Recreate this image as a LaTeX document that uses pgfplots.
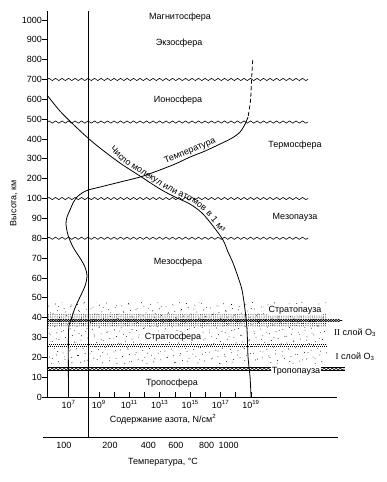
\documentclass[border=0pt]{standalone}
\usepackage{pgfplots}
\pgfplotsset{compat=1.18}
\usepackage{fontspec}
\setmainfont{Liberation Sans}
\newfontfamily\serifrm{Liberation Serif}
\usetikzlibrary{decorations.pathmorphing, decorations.text, patterns.meta}
\begin{document}
\fontsize{9}{11}\selectfont
\begin{tikzpicture}[x=1pt,y=1pt]
\path[use as bounding box] (0,0) rectangle (387,482);
\begin{axis}[
  at={(47pt,85pt)}, anchor=south west, scale only axis,
  width=290pt, height=386pt,
  xmin=5.586, xmax=24.66, ymin=0, ymax=19.45,
  axis lines*=left,
  axis line style={line width=0.9pt},
  tick align=inside,
  major tick length=5pt, minor tick length=5pt,
  tick style={black, line width=0.8pt},
  ytick={0,1,...,19},
  yticklabels={0,10,20,30,40,50,60,70,80,90,100,200,300,400,500,600,700,800,900,1000},
  ytick style={xshift=-5pt},
  yticklabel style={xshift=-2pt},
  xtick={7,9,11,13,15,17,19},
  xticklabels={10\textsuperscript{7},10\textsuperscript{9},10\textsuperscript{11},10\textsuperscript{13},10\textsuperscript{15},10\textsuperscript{17},10\textsuperscript{19}},
  minor xtick={10,12,14,16,18},
  /pgf/number format/assume math mode=true,
  clip=false,
]
% stippled stratosphere
\addplot[draw=none, pattern={Dots[distance=7pt, radius=0.45pt, angle=17]}, pattern color=black] coordinates {(5.586,4.786) (24.0,4.786) (24.0,1.713) (5.586,1.713)};
\addplot[draw=none, pattern={Dots[distance=9pt, radius=0.45pt, angle=-38, xshift=3pt, yshift=2pt]}, pattern color=black] coordinates {(5.586,4.786) (24.0,4.786) (24.0,1.713) (5.586,1.713)};
\addplot[draw=none, pattern={Dots[distance=2.2pt, radius=0.5pt]}, pattern color=black] coordinates {(5.586,4.18) (24.0,4.18) (24.0,3.53) (5.586,3.53)};
% dotted row (ozone layer boundary)
\addplot[line width=0.9pt, dash pattern=on 0.9pt off 1.1pt] coordinates {(5.586,2.67) (24.0,2.67)};
\addplot[line width=0.9pt, dash pattern=on 0.9pt off 1.1pt, dash phase=1pt] coordinates {(5.586,2.57) (24.0,2.57)};
% stratopause (chain line)
\addplot[line width=0.6pt, decorate, decoration={snake, amplitude=1.2pt, segment length=5pt}] coordinates {(5.586,3.854) (24.99,3.854)};
\addplot[line width=0.6pt, decorate, decoration={snake, amplitude=1.2pt, segment length=5pt, mirror}] coordinates {(5.586,3.854) (24.99,3.854)};
% tropopause
\addplot[line width=0.7pt] coordinates {(5.586,1.486) (25.19,1.486)};
\addplot[line width=0.7pt] coordinates {(5.586,1.335) (25.19,1.335)};
\addplot[line width=0.5pt, decorate, decoration={snake, amplitude=0.9pt, segment length=4pt}] coordinates {(5.586,1.41) (25.19,1.41)};
% wavy boundaries
\addplot[line width=0.6pt, decorate, decoration={snake, amplitude=1.1pt, segment length=6.5pt}] coordinates {(5.586,16) (22.757,16)};
\addplot[line width=0.6pt, decorate, decoration={snake, amplitude=1.1pt, segment length=6.5pt}] coordinates {(5.586,13.854) (22.757,13.854)};
\addplot[line width=0.6pt, decorate, decoration={snake, amplitude=1.1pt, segment length=6.5pt}] coordinates {(5.586,10) (22.757,10)};
\addplot[line width=0.6pt, decorate, decoration={snake, amplitude=1.1pt, segment length=6.5pt}] coordinates {(5.586,8) (22.757,8)};
% vertical separator line
\addplot[line width=1pt] coordinates {(8.283,19.45) (8.283,-2.015)};
% number of molecules
\addplot[line width=0.8pt, smooth, tension=0.5] coordinates {
(5.586,15.214) (6.441,14.408) (7.428,13.652) (8.283,13.048) (9.072,12.544)
(10.388,11.788) (11.704,11.134) (13.020,10.479) (14.007,10.076) (14.993,9.723)
(15.783,9.270) (16.507,8.615) (17.164,7.909) (17.493,7.305) (17.822,6.751)
(18.151,6.045) (18.414,5.390) (18.612,4.383) (18.743,3.375) (18.809,2.015)
(18.941,1.008) (19.007,0)};
% temperature
\addplot[line width=0.8pt, smooth, tension=0.5] coordinates {
(18.809,14.106) (18.612,13.753) (18.283,13.350) (17.757,13.048) (16.967,12.746)
(15.980,12.393) (14.993,12.091) (14.007,11.738) (12.822,11.385) (11.704,11.083)
(10.388,10.831) (9.072,10.579) (8.283,10.428) (7.888,10.277) (7.559,10.076)
(7.296,9.773) (7.099,9.421) (6.901,9.068) (6.836,8.715) (6.967,8.161)
(7.296,7.557) (7.757,7.003) (8.086,6.549) (8.217,6.096) (8.086,5.592)
(7.757,5.038) (7.428,4.484) (7.164,3.879) (7.0,3.275) (7.0,0)};
\addplot[line width=0.8pt, dash pattern=on 4pt off 2.5pt, smooth] coordinates {
(19.118,16.977) (19.039,15.970) (18.974,14.962) (18.809,14.106)};
% labels
\node at (axis cs:14.336,19.144) {Магнитосфера};
\node at (axis cs:14.270,17.834) {Экзосфера};
\node at (axis cs:14.204,14.962) {Ионосфера};
\node at (axis cs:21.901,12.695) {Термосфера};
\node at (axis cs:21.901,9.068) {Мезопауза};
\node at (axis cs:14.204,6.801) {Мезосфера};
\node[fill=white, inner sep=0.5pt] at (axis cs:21.901,4.383) {Стратопауза};
\node[fill=white, inner sep=0.5pt] at (axis cs:13.875,3.023) {Стратосфера};
\node at (axis cs:25.849,3.224) {{\serifrm II} слой O\textsubscript{3}};
\node at (axis cs:25.849,2.015) {{\serifrm I} слой O\textsubscript{3}};
\node[fill=white, inner sep=0.5pt] at (axis cs:21.967,1.310) {Тропопауза};
\node at (axis cs:13.809,0.705) {Тропосфера};
\node[rotate=22] at (axis cs:14.993,12.393) {Температура};
\path[decorate, decoration={text along path, text={Число молекул или атомов в 1 м³}, text align=left, raise=2.5pt}]
  (axis cs:9.599,12.393) -- (axis cs:10.388,11.788) -- (axis cs:11.704,11.134) -- (axis cs:13.020,10.479)
  -- (axis cs:14.007,10.076) -- (axis cs:14.993,9.723) -- (axis cs:15.783,9.270) -- (axis cs:16.507,8.615)
  -- (axis cs:17.164,7.909) -- (axis cs:17.625,7.154);
\node[rotate=90] at (axis cs:3.414,9.773) {Высота, км};
\node at (axis cs:13.22,-1.108) {Содержание азота, N/см\textsuperscript{2}};
\end{axis}
\begin{axis}[
  at={(43pt,45pt)}, anchor=south west, scale only axis,
  width=295pt, height=10pt,
  xmin=5.322, xmax=24.73, ymin=0, ymax=1,
  axis x line*=bottom, axis y line=none,
  axis line style={line width=0.9pt},
  major tick length=0pt,
  xtick={6.70,9.73,12.26,14.07,16.08,17.53},
  xticklabels={100,200,400,600,800,1000},
  xticklabel style={yshift=-2pt},
  /pgf/number format/assume math mode=true,
  clip=false,
]
\addplot[draw=none] coordinates {(10,0.5)};
\node at (axis cs:13.22,-2.5) {Температура, °C};
\end{axis}
\end{tikzpicture}
\end{document}
